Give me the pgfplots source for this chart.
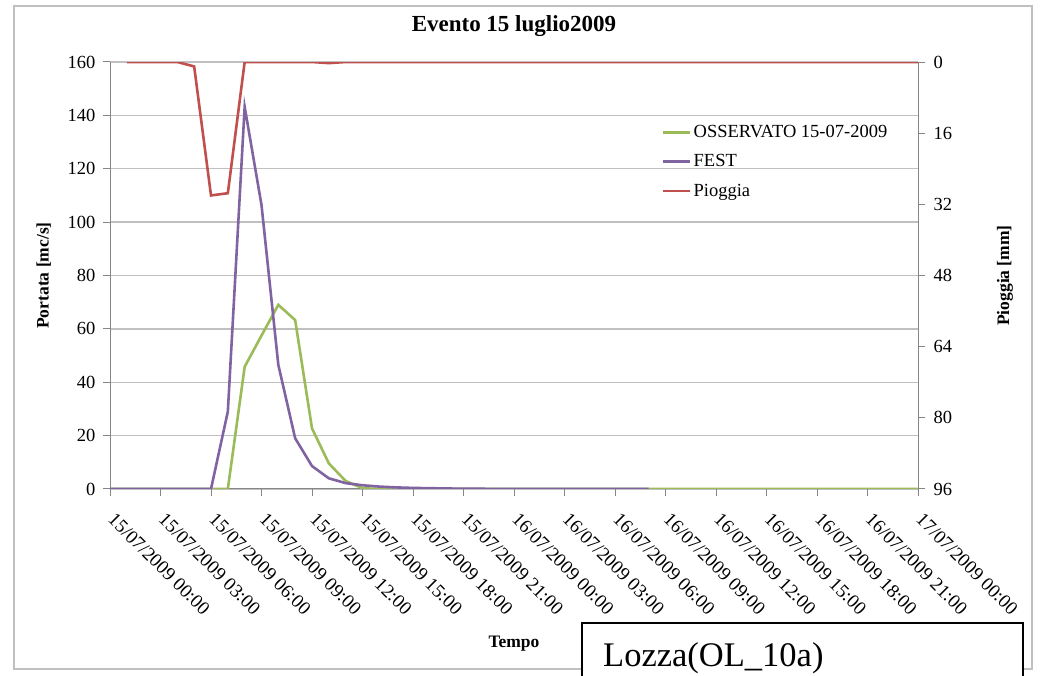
\documentclass[border=0pt]{standalone}
\usepackage{fontspec}
\setmainfont{Liberation Serif}
\usepackage{pgfplots}
\pgfplotsset{compat=1.18}

\definecolor{oss}{RGB}{155,187,89}
\definecolor{fest}{RGB}{128,100,162}
\definecolor{pio}{RGB}{192,80,77}
\definecolor{griglia}{RGB}{192,192,192}
\definecolor{assi}{RGB}{134,134,134}

\pgfplotsset{
  comune/.style={
    at={(110pt,187pt)}, anchor=south west,
    width=808pt, height=427pt, scale only axis,
    xmin=0, xmax=48,
    axis line style={assi, line width=1pt},
    tick style={assi, line width=1pt},
    tick align=outside, major tick length=7pt,
    ticklabel style={font=\fontsize{18.5}{20}\selectfont},
    /pgf/number format/assume math mode=true,
  },
}

\begin{document}
\begin{tikzpicture}
\useasboundingbox (0pt,0pt) rectangle (1044pt,676pt);
\draw[griglia, line width=1.5pt] (14pt,7pt) rectangle (1032pt,670pt);

% portate
\begin{axis}[comune,
  ymin=0, ymax=160,
  xtick={0,3,...,48}, ytick={0,20,...,160},
  xticklabels={15/07/2009 00:00, 15/07/2009 03:00, 15/07/2009 06:00, 15/07/2009 09:00,
    15/07/2009 12:00, 15/07/2009 15:00, 15/07/2009 18:00, 15/07/2009 21:00,
    16/07/2009 00:00, 16/07/2009 03:00, 16/07/2009 06:00, 16/07/2009 09:00,
    16/07/2009 12:00, 16/07/2009 15:00, 16/07/2009 18:00, 16/07/2009 21:00,
    17/07/2009 00:00},
  xticklabel style={xshift=6pt, yshift=-11pt, rotate=-45, anchor=north west, font=\fontsize{19}{20}\selectfont},
  yticklabel style={xshift=-4pt},
  axis x line*=bottom, axis y line*=left,
  ymajorgrids, grid style={griglia, line width=1.3pt},
  title={Evento 15 luglio2009},
  title style={font=\bfseries\fontsize{23}{25}\selectfont, at={(0.5,1)}, anchor=base, yshift=24pt},
  xlabel={Tempo},
  xlabel style={font=\bfseries\fontsize{17.5}{20}\selectfont, at={(rel axis cs:0.5,0)}, anchor=base, yshift=-159pt},
  ylabel={Portata [mc/s]},
  ylabel style={font=\bfseries\fontsize{17.5}{20}\selectfont, at={(rel axis cs:-0.082,0.5)}, anchor=center},
  legend style={at={(rel axis cs:0.683,0.852)}, anchor=north west, draw=none, fill=none,
    font=\fontsize{18.5}{20}\selectfont, row sep=15.5pt, inner sep=0pt,
    nodes={inner xsep=2pt, inner ysep=0pt}},
  legend cell align=left,
  legend image code/.code={\draw[#1, line width=2.6pt] (0pt,0pt) -- (27pt,0pt);},
]
\addplot[oss, line width=2.6pt] coordinates {
  (0,0) (1,0) (2,0) (3,0) (4,0) (5,0) (6,0) (7,0) (8,45.8) (9,57.5) (10,69)
  (11,63.3) (12,22.7) (13,9.6) (14,3.0) (15,0.3) (16,0) (17,0) (18,0) (19,0)
  (20,0) (21,0) (22,0) (23,0) (24,0) (25,0) (26,0) (27,0) (28,0) (29,0) (30,0)
  (31,0) (32,0) (33,0) (34,0) (35,0) (36,0) (37,0) (38,0) (39,0) (40,0) (41,0)
  (42,0) (43,0) (44,0) (45,0) (46,0) (47,0) (48,0)};
\addlegendentry{OSSERVATO 15-07-2009}
\addplot[fest, line width=2.6pt] coordinates {
  (0,0) (1,0) (2,0) (3,0) (4,0) (5,0) (6,0) (7,29) (8,143.2) (9,106.4) (10,46.5)
  (11,19) (12,8.6) (13,4.0) (14,2.2) (15,1.4) (16,0.9) (17,0.6) (18,0.4) (19,0.3)
  (20,0.2) (21,0.1) (22,0.1) (23,0) (24,0) (25,0) (26,0) (27,0) (28,0) (29,0)
  (30,0) (31,0) (32,0)};
\addlegendentry{FEST}
\addlegendimage{pio, line width=2.6pt}
\addlegendentry{Pioggia}
\end{axis}

% pioggia
\begin{axis}[comune,
  ymin=0, ymax=96, y dir=reverse,
  ytick={0,16,...,96},
  yticklabel style={xshift=5pt},
  axis x line=none, axis y line*=right,
  ylabel={Pioggia [mm]},
  ylabel style={font=\bfseries\fontsize{17.5}{20}\selectfont, at={(rel axis cs:1.1075,0.5)}, anchor=center},
]
\addplot[pio, line width=2.6pt] coordinates {
  (1,0) (2,0) (3,0) (4,0) (5,1.0) (6,30) (7,29.5) (8,0) (9,0) (10,0) (11,0)
  (12,0) (13,0.25) (14,0) (15,0) (16,0) (17,0) (18,0) (19,0) (20,0) (21,0)
  (22,0) (23,0) (24,0) (25,0) (26,0) (27,0) (28,0) (29,0) (30,0) (31,0) (32,0)
  (33,0) (34,0) (35,0) (36,0) (37,0) (38,0) (39,0) (40,0) (41,0) (42,0) (43,0)
  (44,0) (45,0) (46,0) (47,0) (48,0)};
\end{axis}

\draw[black, line width=1.3pt, fill=white] (582pt,-5pt) -- (582pt,53pt) -- (1023pt,53pt) -- (1023pt,-5pt);
\node[anchor=base west, inner sep=0pt, font=\fontsize{34.5}{36}\selectfont] at (603pt,9pt) {Lozza(OL\_10a)};
\end{tikzpicture}
\end{document}
